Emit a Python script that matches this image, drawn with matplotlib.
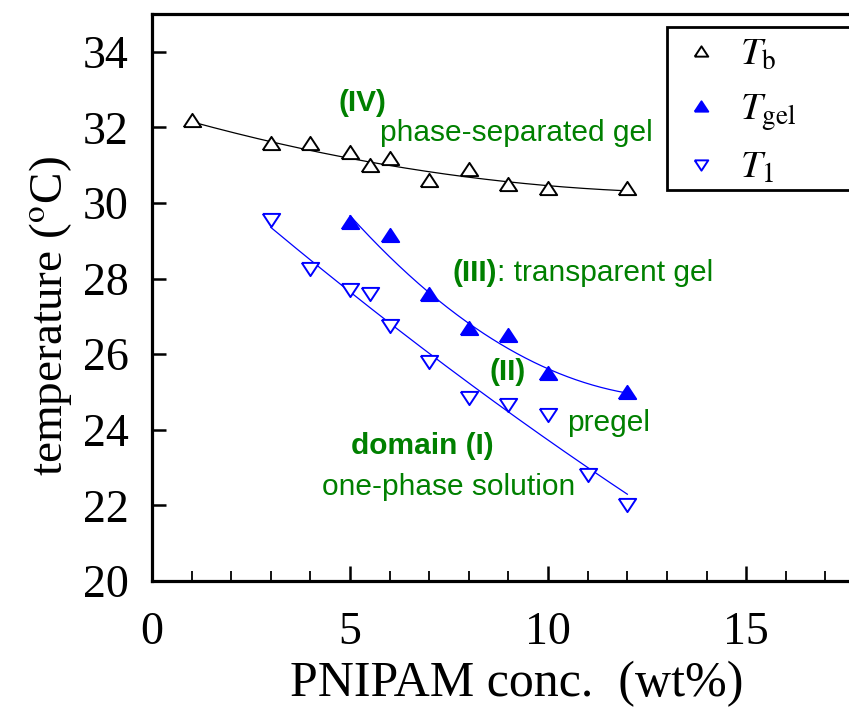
import numpy as np
import matplotlib
matplotlib.use("Agg")
import matplotlib.pyplot as plt
from matplotlib.patches import Rectangle

# ---- data (markers) ----
tb_x = [1, 3, 4, 5, 5.5, 6, 7, 8, 9, 10, 12]
tb_y = [32.2, 31.6, 31.6, 31.35, 31.0, 31.2, 30.6, 30.9, 30.5, 30.4, 30.4]

tgel_x = [5, 6, 7, 8, 9, 10, 12]
tgel_y = [29.5, 29.15, 27.6, 26.7, 26.5, 25.5, 25.0]

t1_x = [3, 4, 5, 5.5, 6, 7, 8, 9, 10, 11, 12]
t1_y = [29.55, 28.25, 27.7, 27.6, 26.75, 25.8, 24.85, 24.65, 24.4, 22.8, 22.0]

# ---- fitted curves ----
tb_fit_x = [1, 3, 5, 7, 9, 12]
tb_fit_y = [32.15, 31.58, 31.27, 30.8, 30.52, 30.34]
tgel_fit_x = [5, 7, 8, 8.8, 9.9, 12]
tgel_fit_y = [29.68, 27.57, 26.82, 26.33, 25.63, 24.97]
t1_fit_x = [3, 5, 7, 9, 12]
t1_fit_y = [29.37, 27.65, 25.93, 24.57, 22.27]

xticks = [0, 5, 10, 15]
yticks = [20, 22, 24, 26, 28, 30, 32, 34]

plt.rcParams['mathtext.fontset'] = 'stix'
serif = 'Liberation Serif'
sans = 'Liberation Sans'
green = '#008000'

fig = plt.figure(figsize=(8.49, 7.08), dpi=100)
ax = fig.add_axes([152/849, 127/708, 713/849, 567/708])
ax.set_xlim(0, 18)
ax.set_ylim(20, 35)

def smooth(x, y, deg=2):
    c = np.polyfit(x, y, deg)
    xs = np.linspace(min(x), max(x), 200)
    return xs, np.polyval(c, xs)

for fx, fy, col in [(tb_fit_x, tb_fit_y, 'black'),
                    (tgel_fit_x, tgel_fit_y, 'blue'),
                    (t1_fit_x, t1_fit_y, 'blue')]:
    xs, ys = smooth(fx, fy)
    ax.plot(xs, ys, color=col, lw=0.9, zorder=2)

up = [(-1, -0.76), (1, -0.76), (0, 0.76), (-1, -0.76)]
down = [(-1, 0.76), (1, 0.76), (0, -0.76), (-1, 0.76)]
ms = 12.5
h1, = ax.plot(tb_x, tb_y, ls='none', marker=up, ms=ms, mfc='white', mec='black', mew=1.4, zorder=3,
              label=r'$T_{\rm b}$')
h2, = ax.plot(tgel_x, tgel_y, ls='none', marker=up, ms=ms, mfc='blue', mec='blue', mew=1.4, zorder=3,
              label=r'$T_{\rm gel}$')
h3, = ax.plot(t1_x, t1_y, ls='none', marker=down, ms=ms, mfc='white', mec='blue', mew=1.4, zorder=3,
              label=r'$T_{\rm 1}$')

# ticks and spines
for s in ax.spines.values():
    s.set_linewidth(2.3)
ax.set_xticks(xticks)
ax.set_yticks(yticks)
ax.set_xticks(np.arange(0, 19, 1), minor=True)
ax.tick_params(axis='x', which='major', direction='in', length=11, width=1.8, pad=22,
               top=False, labelsize=33)
ax.tick_params(axis='x', which='minor', direction='in', length=7, width=1.3, top=False)
ax.tick_params(axis='y', which='major', direction='in', length=10, width=1.8, pad=17,
               right=False, labelsize=33)
for lab in ax.get_xticklabels() + ax.get_yticklabels():
    lab.set_fontfamily(serif)

ax.set_xlabel('PNIPAM conc.  (wt%)', fontsize=36, fontfamily=serif)
ax.xaxis.set_label_coords(0.512, -0.140)
ax.set_ylabel(r'temperature ($^{\rm o}$C)', fontsize=34, fontfamily=serif)
ax.yaxis.set_label_coords(-0.110, 0.467)

# annotations
fs = 21.5
ax.text(5.3, 32.65, '(IV)', color=green, fontsize=fs, fontweight='bold', fontfamily=sans,
        ha='center', va='center')
ax.text(5.76, 31.85, 'phase-separated gel', color=green, fontsize=fs, fontfamily=sans,
        ha='left', va='center')
t3 = ax.text(7.58, 28.15, '(III)', color=green, fontsize=fs, fontweight='bold', fontfamily=sans,
             ha='left', va='center')
ax.annotate(': transparent gel', xy=(1, 0), xycoords=t3, va='bottom', ha='left',
            color=green, fontsize=fs, fontfamily=sans)
ax.text(8.99, 25.53, '(II)', color=green, fontsize=fs, fontweight='bold', fontfamily=sans,
        ha='center', va='center')
ax.text(10.48, 24.18, 'pregel', color=green, fontsize=fs, fontfamily=sans,
        ha='left', va='center')
ax.text(6.82, 23.57, 'domain (I)', color=green, fontsize=fs, fontweight='bold', fontfamily=sans,
        ha='center', va='center')
ax.text(7.48, 22.49, 'one-phase solution', color=green, fontsize=fs, fontfamily=sans,
        ha='center', va='center')

# legend box
bx0 = (667 - 152) / 713
by0 = (581 - 190) / 567
by1 = (581 - 27) / 567
ax.add_patch(Rectangle((bx0, by0), 0.5, by1 - by0, transform=ax.transAxes, facecolor='white',
                       edgecolor='black', lw=2.0, clip_on=False, zorder=4))
leg = ax.legend(handles=[h1, h2, h3], loc='upper left', bbox_to_anchor=(bx0 + 0.012, by1 - 0.004),
                frameon=False, borderaxespad=0, fontsize=28, markerscale=0.78,
                handlelength=0.9, handletextpad=0.55, labelspacing=0.45, borderpad=0.2)
leg.set_zorder(5)
for t in leg.get_texts():
    t.set_fontfamily(serif)

fig.savefig('out.png', dpi=100)
